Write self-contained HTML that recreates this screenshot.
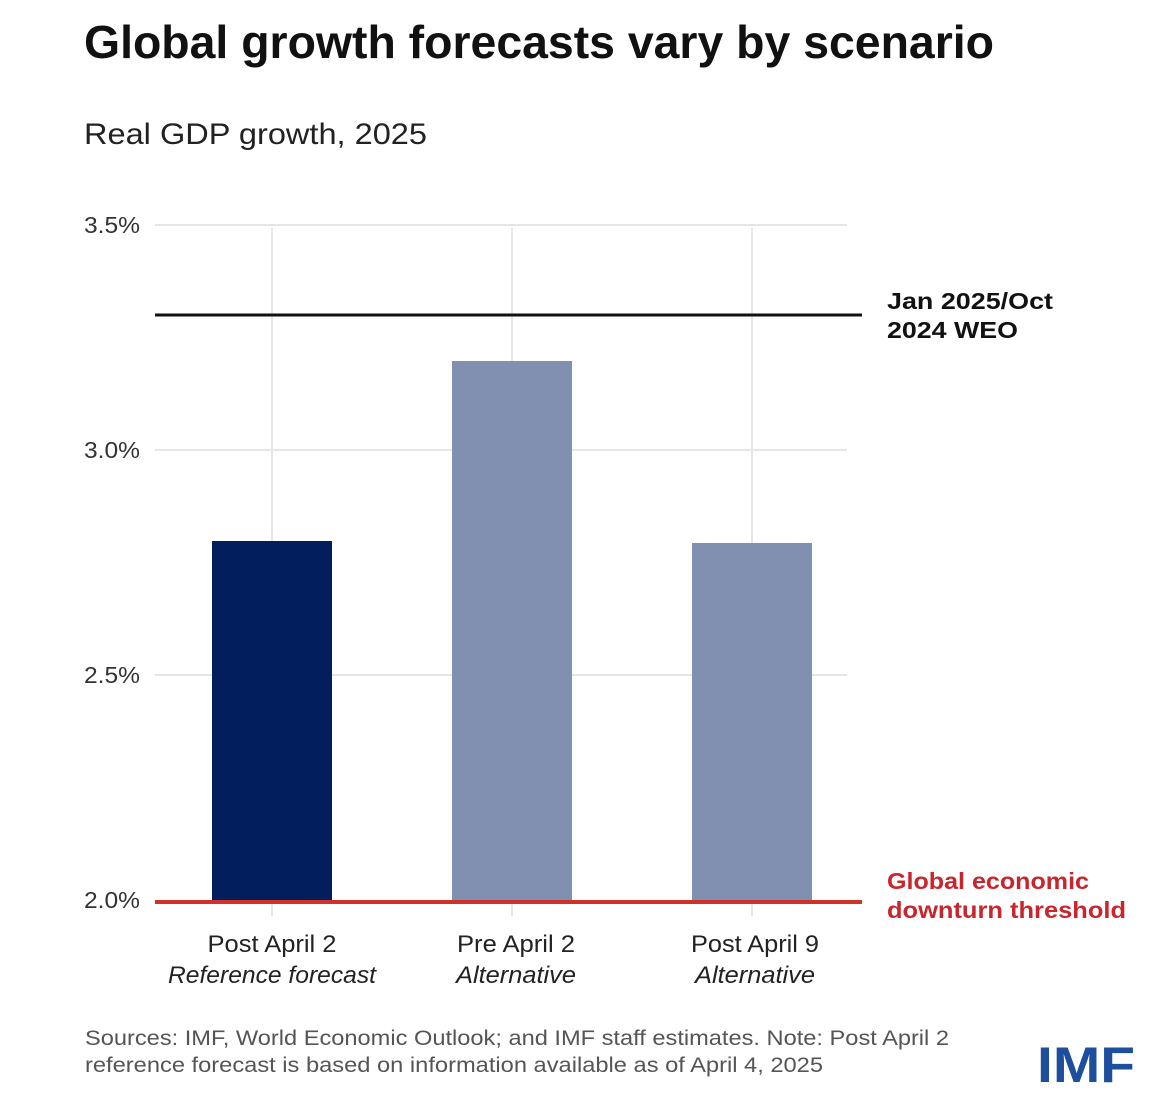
<!DOCTYPE html>
<html><head><meta charset="utf-8"><style>
html,body{margin:0;padding:0;background:#fff;}
svg{display:block;}
text{font-family:"Liberation Sans",sans-serif;}
</style></head><body>
<svg width="1161" height="1096" viewBox="0 0 1161 1096" xmlns="http://www.w3.org/2000/svg">
<rect width="1161" height="1096" fill="#fff"/>
<text x="84" y="58" font-size="46" font-weight="bold" fill="#111" textLength="910" lengthAdjust="spacingAndGlyphs">Global growth forecasts vary by scenario</text>
<text x="84" y="144" font-size="30" fill="#222" textLength="343" lengthAdjust="spacingAndGlyphs">Real GDP growth, 2025</text>
<g stroke="#e6e6e6" stroke-width="2">
<line x1="155" y1="225" x2="847" y2="225"/>
<line x1="155" y1="450" x2="847" y2="450"/>
<line x1="155" y1="675" x2="847" y2="675"/>
<line x1="272" y1="228" x2="272" y2="916"/>
<line x1="512" y1="228" x2="512" y2="916"/>
<line x1="752" y1="228" x2="752" y2="916"/>
</g>
<g font-size="23" fill="#333" text-anchor="end">
<text x="140" y="233" textLength="56" lengthAdjust="spacingAndGlyphs">3.5%</text>
<text x="140" y="458" textLength="56" lengthAdjust="spacingAndGlyphs">3.0%</text>
<text x="140" y="683" textLength="56" lengthAdjust="spacingAndGlyphs">2.5%</text>
<text x="140" y="908" textLength="56" lengthAdjust="spacingAndGlyphs">2.0%</text>
</g>
<rect x="212" y="541" width="120" height="361" fill="#021e5c"/>
<rect x="452" y="361" width="120" height="541" fill="#8190b0"/>
<rect x="692" y="543" width="120" height="359" fill="#8190b0"/>
<line x1="155" y1="315" x2="862" y2="315" stroke="#111" stroke-width="3"/>
<line x1="155" y1="902" x2="862" y2="902" stroke="#d03128" stroke-width="4"/>
<g font-size="23" font-weight="bold" fill="#111">
<text x="887" y="309" textLength="166" lengthAdjust="spacingAndGlyphs">Jan 2025/Oct</text>
<text x="887" y="338" textLength="131" lengthAdjust="spacingAndGlyphs">2024 WEO</text>
</g>
<g font-size="23" font-weight="bold" fill="#c8262c">
<text x="887" y="889" textLength="202" lengthAdjust="spacingAndGlyphs">Global economic</text>
<text x="887" y="918" textLength="239" lengthAdjust="spacingAndGlyphs">downturn threshold</text>
</g>
<g font-size="24" fill="#222" text-anchor="middle">
<text x="272" y="952" textLength="129" lengthAdjust="spacingAndGlyphs">Post April 2</text>
<text x="272" y="983" font-style="italic" textLength="208" lengthAdjust="spacingAndGlyphs">Reference forecast</text>
<text x="516" y="952" textLength="118" lengthAdjust="spacingAndGlyphs">Pre April 2</text>
<text x="516" y="983" font-style="italic" textLength="120" lengthAdjust="spacingAndGlyphs">Alternative</text>
<text x="755" y="952" textLength="128" lengthAdjust="spacingAndGlyphs">Post April 9</text>
<text x="755" y="983" font-style="italic" textLength="120" lengthAdjust="spacingAndGlyphs">Alternative</text>
</g>
<g font-size="21" fill="#555">
<text x="85" y="1045" textLength="864" lengthAdjust="spacingAndGlyphs">Sources: IMF, World Economic Outlook; and IMF staff estimates. Note: Post April 2</text>
<text x="85" y="1072" textLength="738" lengthAdjust="spacingAndGlyphs">reference forecast is based on information available as of April 4, 2025</text>
</g>
<text x="1037" y="1082" font-size="50" font-weight="bold" fill="#1d4f9c" textLength="98" lengthAdjust="spacingAndGlyphs">IMF</text>
</svg>
</body></html>
